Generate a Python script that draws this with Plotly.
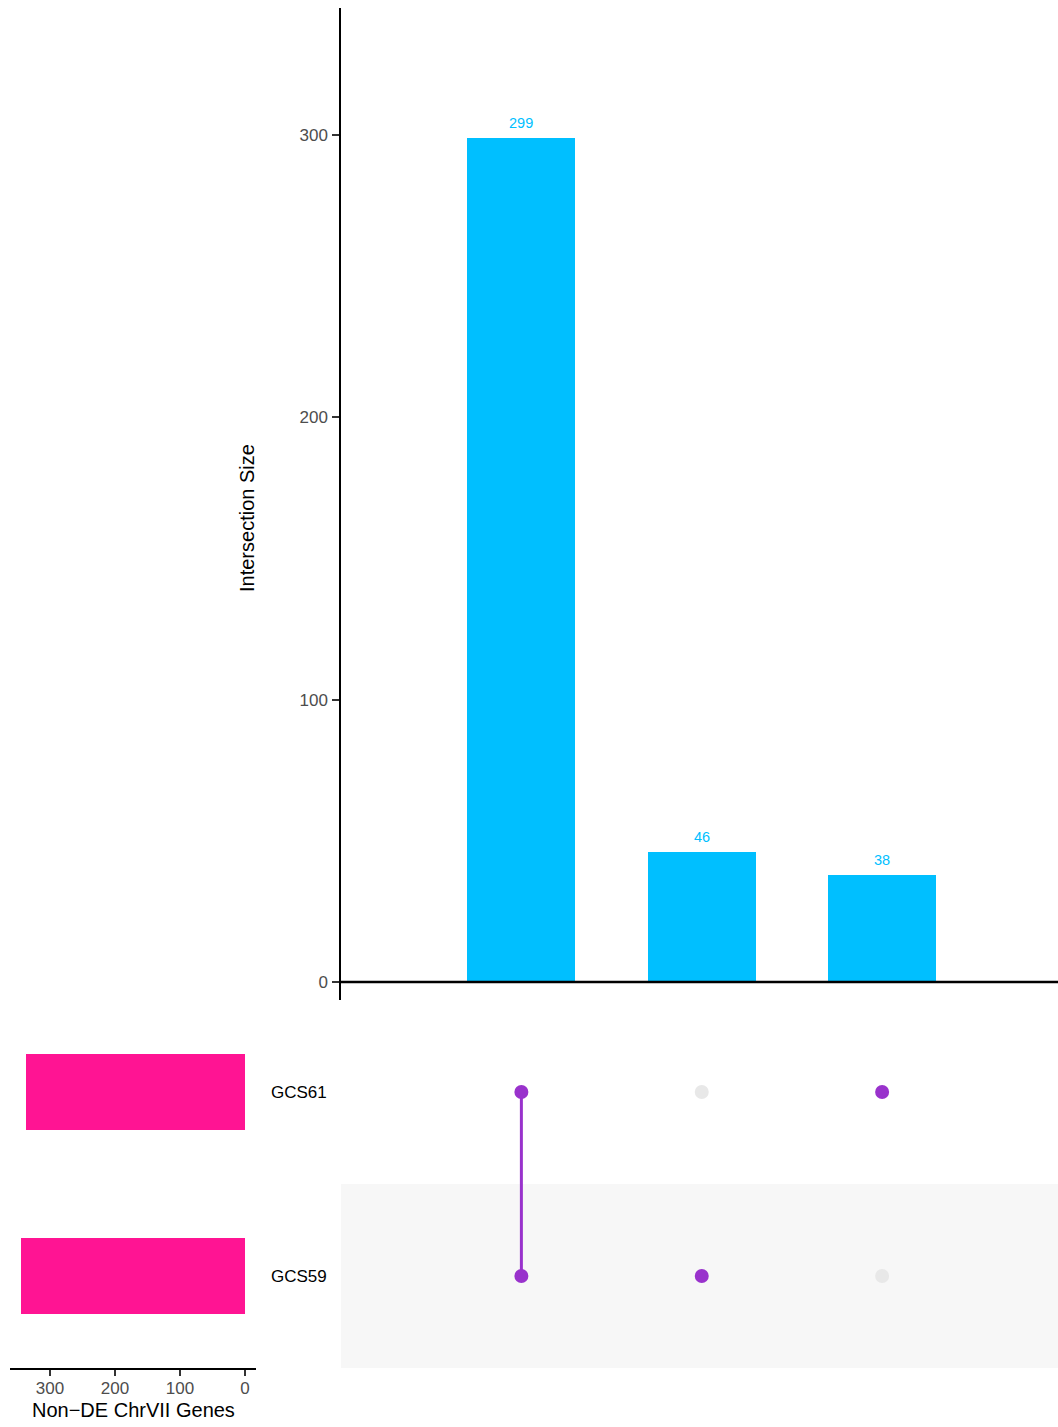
import plotly.graph_objects as go

# ---- data ----
intersections = ["GCS61 & GCS59", "GCS59", "GCS61"]
intersection_sizes = [299, 46, 38]
set_names = ["GCS59", "GCS61"]          # bottom to top
set_sizes = [345, 337]
membership = [                           # per intersection: sets included
    ["GCS61", "GCS59"],
    ["GCS59"],
    ["GCS61"],
]
size_ticks = [0, 100, 200, 300]

W, H = 1058, 1427
FONT = "Liberation Sans"
BAR_C = "#00BFFF"
SET_C = "#FF1493"
DOT_C = "#9932CC"
OFF_C = "#E8E8E8"
TICK_C = "#4D4D4D"

def px(x):
    return x / W

def py(y):
    return (H - y) / H

xpos = [i + 1 for i in range(len(intersections))]
set_pos = {s: i + 1 for i, s in enumerate(set_names)}

fig = go.Figure()

# main intersection bars
fig.add_trace(go.Bar(
    x=xpos, y=intersection_sizes, width=0.6,
    marker=dict(color=BAR_C, line=dict(width=0)),
    xaxis="x", yaxis="y", showlegend=False, hoverinfo="x+y",
))

# set size bars
fig.add_trace(go.Bar(
    x=set_sizes, y=[set_pos[s] for s in set_names], orientation="h", width=0.41,
    marker=dict(color=SET_C, line=dict(width=0)),
    xaxis="x3", yaxis="y3", showlegend=False,
))

# matrix dots
off_x, off_y, on_x, on_y = [], [], [], []
for i, mem in enumerate(membership):
    for s in set_names:
        if s in mem:
            on_x.append(xpos[i]); on_y.append(set_pos[s])
        else:
            off_x.append(xpos[i]); off_y.append(set_pos[s])

fig.add_trace(go.Scatter(
    x=off_x, y=off_y, mode="markers",
    marker=dict(size=14, color=OFF_C, line=dict(width=0)),
    xaxis="x2", yaxis="y2", showlegend=False, hoverinfo="skip",
))
for i, mem in enumerate(membership):
    if len(mem) > 1:
        ys = [set_pos[s] for s in mem]
        fig.add_trace(go.Scatter(
            x=[xpos[i], xpos[i]], y=[min(ys), max(ys)], mode="lines",
            line=dict(color=DOT_C, width=3),
            xaxis="x2", yaxis="y2", showlegend=False, hoverinfo="skip",
        ))
fig.add_trace(go.Scatter(
    x=on_x, y=on_y, mode="markers",
    marker=dict(size=14, color=DOT_C, line=dict(width=0)),
    xaxis="x2", yaxis="y2", showlegend=False, hoverinfo="skip",
))

xr = [0.0, 3.975]
mat_dom = [py(1368), py(1000)]

fig.update_layout(
    width=W, height=H,
    margin=dict(l=0, r=0, t=0, b=0),
    paper_bgcolor="white", plot_bgcolor="rgba(0,0,0,0)",
    font=dict(family=FONT, color="black"),
    xaxis=dict(domain=[px(341), 1], range=xr, visible=False, anchor="y"),
    yaxis=dict(
        domain=[py(1000), py(8)], range=[-6.375, 345], anchor="x",
        tickvals=size_ticks, ticks="outside", ticklen=7, tickwidth=1.5,
        tickcolor="#333333", tickfont=dict(size=17, color=TICK_C, family=FONT),
        ticklabelstandoff=1,
        showline=True, linecolor="black", linewidth=1.5,
        showgrid=False, zeroline=False,
    ),
    xaxis2=dict(domain=[px(341), 1], range=xr, visible=False, anchor="y2"),
    yaxis2=dict(domain=mat_dom, range=[0.5, 2.5], visible=False, anchor="x2"),
    xaxis3=dict(
        domain=[px(10), px(256)], range=[361.5, -16.9], anchor="y3",
        tickvals=size_ticks, ticks="outside", ticklen=6, tickwidth=1.5,
        tickcolor="#333333", tickfont=dict(size=17, color=TICK_C, family=FONT),
        ticklabelstandoff=-2,
        showline=True, linecolor="black", linewidth=1.5,
        showgrid=False, zeroline=False,
    ),
    yaxis3=dict(domain=mat_dom, range=[0.5, 2.5], visible=False, anchor="x3"),
    bargap=0,
)

shapes = [
    dict(type="rect", xref="x2 domain", yref="y2", x0=0, x1=1,
         y0=set_pos["GCS59"] - 0.5, y1=set_pos["GCS59"] + 0.5,
         fillcolor="#F7F7F7", line=dict(width=0), layer="below"),
    dict(type="line", xref="paper", yref="y", x0=px(341), x1=1, y0=0, y1=0,
         line=dict(color="black", width=2.5), layer="above"),
]
fig.update_layout(shapes=shapes)

ann = []
for xv, v in zip(xpos, intersection_sizes):
    ann.append(dict(x=xv, y=v, xref="x", yref="y", text=str(v), showarrow=False,
                    yanchor="middle", yshift=15,
                    font=dict(size=14.5, color=BAR_C, family=FONT)))
for s in set_names:
    ann.append(dict(x=px(269), y=set_pos[s], xref="paper", yref="y3", text=s,
                    showarrow=False, xanchor="left", yanchor="middle",
                    font=dict(size=17, color="black", family=FONT)))
ann.append(dict(x=px(247), y=py(518), xref="paper", yref="paper",
                text="Intersection Size", textangle=-90, showarrow=False,
                xanchor="center", yanchor="middle",
                font=dict(size=20, color="black", family=FONT)))
ann.append(dict(x=px(133), y=py(1410), xref="paper", yref="paper",
                text="Non\u2212DE ChrVII Genes", showarrow=False,
                xanchor="center", yanchor="middle",
                font=dict(size=20, color="black", family=FONT)))
fig.update_layout(annotations=ann)

fig.write_html("out.html")
